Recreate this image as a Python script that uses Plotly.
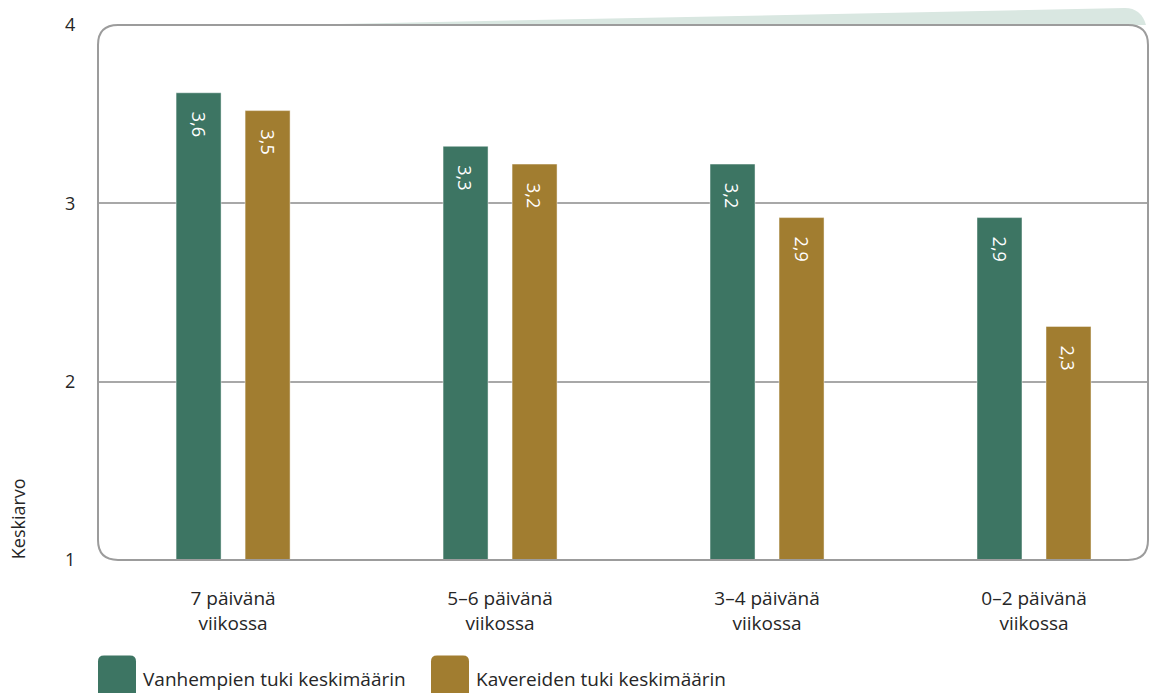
import plotly.graph_objects as go

# Chart data
categories = ["7 päivänä<br>viikossa", "5–6 päivänä<br>viikossa",
              "3–4 päivänä<br>viikossa", "0–2 päivänä<br>viikossa"]
parents_support = [3.62, 3.32, 3.22, 2.92]
friends_support = [3.52, 3.22, 2.92, 2.31]
series_names = ["Vanhempien tuki keskimäärin", "Kavereiden tuki keskimäärin"]
y_ticks = [1, 2, 3, 4]

GREEN = "#3D7563"
GOLD = "#A17D30"
FONT = "Open Sans, Noto Sans, sans-serif"
TEXT = "#262626"

W, H = 1160, 693
ML, MR, MT, MB = 98, 12, 22, 133
PW, PH = W - ML - MR, H - MT - MB


def px(x):
    return (x - ML) / PW


def py(y):
    return (H - MB - y) / PH


def fmt(v):
    return f"{v:.1f}".replace(".", ",")


fig = go.Figure()
annotations = []
for vals, name, col, shift in [(parents_support, series_names[0], GREEN, -34.5),
                               (friends_support, series_names[1], GOLD, 34.5)]:
    fig.add_trace(go.Bar(
        x=categories, y=vals, name=name,
        marker=dict(color=col, line=dict(color="rgba(255,255,255,0.45)", width=1)),
        showlegend=False, hoverinfo="x+y+name",
    ))
    # value labels written vertically near the top of each bar
    for c, v in zip(categories, vals):
        annotations.append(dict(
            x=c, y=v, xref="x", yref="y", text=fmt(v), textangle=90,
            xshift=shift, yshift=-17, xanchor="center", yanchor="top",
            showarrow=False, font=dict(size=18, color="white", family=FONT)))

# rounded frame around the plotting area
r = 20
x0, x1, y0, y1 = ML, W - MR, MT, H - MB
frame = (f"M {px(x0 + r)} {py(y0)} L {px(x1 - r)} {py(y0)} "
         f"Q {px(x1)} {py(y0)} {px(x1)} {py(y0 + r)} "
         f"L {px(x1)} {py(y1 - r)} Q {px(x1)} {py(y1)} {px(x1 - r)} {py(y1)} "
         f"L {px(x0 + r)} {py(y1)} Q {px(x0)} {py(y1)} {px(x0)} {py(y1 - r)} "
         f"L {px(x0)} {py(y0 + r)} Q {px(x0)} {py(y0)} {px(x0 + r)} {py(y0)} Z")
# light tab on the top edge
tab = (f"M {px(290)} {py(22)} L {px(1125)} {py(5)} "
       f"Q {px(1141)} {py(5)} {px(1146)} {py(22)} Z")

shapes = [
    dict(type="path", xref="paper", yref="paper", path=tab,
         fillcolor="#D9E7E1", line=dict(width=0), layer="below"),
    dict(type="path", xref="paper", yref="paper", path=frame,
         line=dict(color="#9C9C9C", width=2), layer="above"),
]

# legend swatches and labels
for name, col, sx in [(series_names[0], GREEN, 98), (series_names[1], GOLD, 431)]:
    s = 6
    sw = (f"M {px(sx + s)} {py(656)} L {px(sx + 38 - s)} {py(656)} "
          f"Q {px(sx + 38)} {py(656)} {px(sx + 38)} {py(656 + s)} "
          f"L {px(sx + 38)} {py(700)} L {px(sx)} {py(700)} "
          f"L {px(sx)} {py(656 + s)} Q {px(sx)} {py(656)} {px(sx + s)} {py(656)} Z")
    shapes.append(dict(type="path", xref="paper", yref="paper", path=sw,
                       fillcolor=col, line=dict(width=0)))
    annotations.append(dict(text=name, xref="paper", yref="paper",
                            x=px(sx + 43), y=py(680), xanchor="left", yanchor="middle",
                            showarrow=False, font=dict(size=19, color=TEXT, family=FONT)))

annotations.append(dict(text="Keskiarvo", xref="paper", yref="paper",
                        x=px(18), y=py(518), textangle=-90, showarrow=False,
                        xanchor="center", yanchor="middle",
                        font=dict(size=18, color=TEXT, family=FONT)))

fig.update_layout(
    width=W, height=H,
    margin=dict(l=ML, r=MR, t=MT, b=MB, pad=0),
    paper_bgcolor="white", plot_bgcolor="white",
    barmode="group", bargap=0.483, bargroupgap=0.348,
    font=dict(family=FONT, color=TEXT),
    shapes=shapes, annotations=annotations,
    xaxis=dict(range=[-0.506, 3.427], showgrid=False, showline=False, zeroline=False,
               ticks="outside", ticklen=21, tickcolor="rgba(0,0,0,0)",
               tickfont=dict(size=19, color=TEXT, family=FONT)),
    yaxis=dict(range=[1, 4], tickvals=y_ticks, showgrid=True, gridcolor="#A8A8A8",
               gridwidth=1.5, showline=False, zeroline=False,
               ticks="outside", ticklen=18, tickcolor="rgba(0,0,0,0)",
               tickfont=dict(size=18, color=TEXT, family=FONT)),
)

fig.write_html("out.html")
